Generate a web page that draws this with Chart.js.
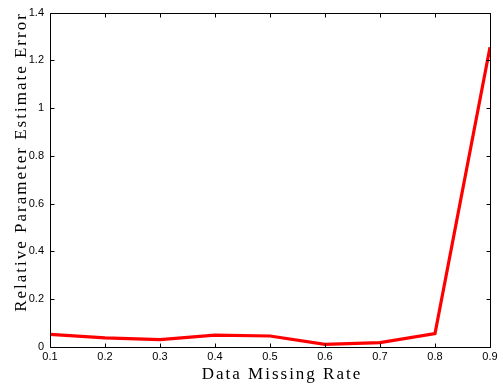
<!DOCTYPE html>
<html>
<head>
<meta charset="utf-8">
<script src="https://cdn.jsdelivr.net/npm/chart.js@4.4.1/dist/chart.umd.min.js"></script>
<style>
html,body{margin:0;padding:0;background:#fff;}
#wrap{width:503px;height:387px;position:relative;}
</style>
</head>
<body>
<div id="wrap"><canvas id="c" width="503" height="387"></canvas></div>
<script>
const missingRates = [0.1, 0.2, 0.3, 0.4, 0.5, 0.6, 0.7, 0.8, 0.9];
const paramError = [0.053, 0.038, 0.031, 0.050, 0.046, 0.011, 0.018, 0.056, 1.255];
const xTicks = [0.1, 0.2, 0.3, 0.4, 0.5, 0.6, 0.7, 0.8, 0.9];
const yTicks = [0, 0.2, 0.4, 0.6, 0.8, 1, 1.2, 1.4];
const xTitle = 'Data Missing Rate';
const yTitle = 'Relative Parameter Estimate Error';

const framePlugin = {
  id: 'frame',
  afterDraw(chart) {
    const ctx = chart.ctx;
    const a = chart.chartArea;
    const xs = chart.scales.x, ys = chart.scales.y;
    ctx.save();
    ctx.strokeStyle = '#000';
    ctx.lineWidth = 1;
    const L = Math.round(a.left) + 0.5, R = Math.round(a.right) + 0.5;
    const T = Math.round(a.top) + 0.5, B = Math.round(a.bottom) + 0.5;
    ctx.beginPath();
    ctx.rect(L, T, R - L, B - T);
    const tl = 4;
    xTicks.forEach(v => {
      const px = Math.round(xs.getPixelForValue(v)) + 0.5;
      ctx.moveTo(px, B); ctx.lineTo(px, B - tl);
      ctx.moveTo(px, T); ctx.lineTo(px, T + tl);
    });
    yTicks.forEach(v => {
      const py = Math.round(ys.getPixelForValue(v)) + 0.5;
      ctx.moveTo(L, py); ctx.lineTo(L + tl, py);
      ctx.moveTo(R, py); ctx.lineTo(R - tl, py);
    });
    ctx.stroke();
    // axis titles
    ctx.fillStyle = '#000';
    ctx.font = '17px "Liberation Serif", "DejaVu Serif", serif';
    ctx.letterSpacing = '2px';
    ctx.textAlign = 'center';
    ctx.textBaseline = 'alphabetic';
    ctx.fillText(xTitle, 282, 379);
    ctx.translate(26, 162);
    ctx.rotate(-Math.PI / 2);
    ctx.fillText(yTitle, 0, 0);
    ctx.restore();
  }
};

new Chart(document.getElementById('c'), {
  type: 'line',
  data: {
    datasets: [{
      data: missingRates.map((x, i) => ({x: x, y: paramError[i]})),
      borderColor: '#ff0000',
      borderWidth: 3.2,
      pointRadius: 0,
      tension: 0,
      fill: false
    }]
  },
  options: {
    responsive: false,
    animation: false,
    events: [],
    layout: { padding: { top: 12, right: 13, left: 0, bottom: 0 } },
    plugins: { legend: { display: false }, tooltip: { enabled: false } },
    scales: {
      x: {
        type: 'linear',
        min: 0.1, max: 0.9,
        grid: { display: false, drawTicks: false },
        border: { display: false },
        afterBuildTicks: s => { s.ticks = xTicks.map(v => ({value: v})); },
        afterFit: s => { s.height = 40; },
        ticks: {
          color: '#000',
          font: { family: '"Liberation Sans", Arial, sans-serif', size: 11 },
          padding: 3,
          maxRotation: 0,
          autoSkip: false,
          callback: v => String(Math.round(v * 10) / 10)
        }
      },
      y: {
        type: 'linear',
        min: 0, max: 1.4,
        grid: { display: false, drawTicks: false },
        border: { display: false },
        afterBuildTicks: s => { s.ticks = yTicks.map(v => ({value: v})); },
        afterFit: s => { s.width = 50; },
        ticks: {
          color: '#000',
          font: { family: '"Liberation Sans", Arial, sans-serif', size: 11 },
          padding: 6,
          autoSkip: false,
          callback: v => String(Math.round(v * 10) / 10)
        }
      }
    }
  },
  plugins: [framePlugin]
});
</script>
</body>
</html>
